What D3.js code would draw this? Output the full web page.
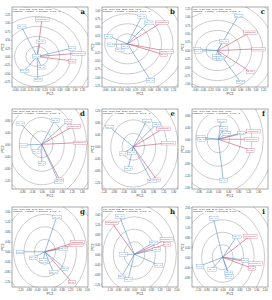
<!DOCTYPE html>
<html>
<head>
<meta charset="utf-8">
<script src="https://cdn.jsdelivr.net/npm/d3@7"></script>
<style>
  body { margin: 0; background: #fff; }
  text { font-family: "Liberation Sans", Arial, sans-serif; }
</style>
</head>
<body>
<script>
// panel letters and header text
const panelLetters = ["a", "b", "c", "d", "e", "f", "g", "h", "i"];
const headerLine1 = [
  "PC1 - 40.6%, PC2 - 19.5%, Sum = 60.1%",
  "PC1 - 42.9%, PC2 - 18.2%, Sum = 61.1%",
  "PC1 - 44.1%, PC2 - 17.0%, Sum = 61.1%",
  "PC1 - 38.7%, PC2 - 21.4%, Sum = 60.1%",
  "PC1 - 39.5%, PC2 - 20.8%, Sum = 60.3%",
  "PC1 - 43.6%, PC2 - 16.9%, Sum = 60.5%",
  "PC1 - 41.2%, PC2 - 19.9%, Sum = 61.1%",
  "PC1 - 37.8%, PC2 - 22.5%, Sum = 60.3%",
  "PC1 - 40.3%, PC2 - 21.1%, Sum = 61.4%"
];
const headerLine2 = "Transform = 0, Scaling = 0, Centering = 2, SVP = 2";

// axis domains and tick steps
const xDomains = [[-0.67, 1.36], [-0.67, 1.33], [-0.67, 1.33],
                  [-1.19, 1.85], [-1.25, 1.79], [-1.05, 1.99],
                  [-1.57, 2.05], [-1.54, 2.08], [-1.46, 2.16]];
const yDomains = [[-0.91, 1.48], [-1.29, 1.10], [-1.09, 1.30],
                  [-1.49, 1.18], [-1.41, 1.26], [-1.66, 1.01],
                  [-1.41, 1.79], [-1.31, 1.89], [-1.19, 2.01]];
const xTickStep = [0.2, 0.2, 0.2, 0.4, 0.4, 0.4, 0.4, 0.4, 0.4];
const yTickStep = [0.25, 0.25, 0.25, 0.4, 0.4, 0.4, 0.4, 0.4, 0.4];
const ringStep = [0.3, 0.3, 0.3, 0.45, 0.45, 0.45, 0.5, 0.5, 0.5];

// genotype (blue) vectors
const genoNames = ["N1_W", "N2_W", "N3_D", "N4_D", "S1_W", "S2_D", "S3_W"];
const genoX = [
  [-0.42, 0.09, 0.93, -0.02, -0.34, 0.11, 0.02],
  [0.38, 0.55, -0.50, -0.44, -0.21, -0.06, 0.60],
  [0.55, 0.16, -0.54, -0.50, -0.03, 0.07, 0.60],
  [-0.87, 0.53, 1.05, -0.73, -0.23, 0.00, 0.67],
  [-0.96, 0.53, 0.93, -0.40, -0.07, -0.20, 0.73],
  [0.13, 0.20, 0.33, 0.93, -0.71, -0.67, 0.20],
  [0.56, 0.87, -1.19, -0.56, -0.08, 0.95, 0.40],
  [-0.71, 0.90, 1.06, -0.52, 1.14, -0.60, -0.29],
  [-0.44, 0.67, 1.06, -1.08, -0.52, 0.27, 0.30]
];
const genoY = [
  [0.90, 0.45, 0.25, 0.02, -0.42, -0.31, -0.69],
  [0.82, 0.64, 0.23, -0.02, -0.17, -0.07, -1.08],
  [1.04, 0.28, 0.05, -0.02, -0.17, -0.22, -0.93],
  [0.70, 0.81, 0.78, -0.02, -0.22, -0.63, -1.24],
  [0.67, 0.87, 0.76, -0.22, -0.19, -0.72, -1.13],
  [0.62, 0.37, 0.20, 0.22, 0.07, 0.00, -1.36],
  [1.40, 0.13, 0.00, -0.23, -0.33, -0.67, -0.80],
  [1.53, 0.47, 0.20, 0.00, -0.43, -0.89, -0.99],
  [1.56, 0.83, -0.11, -0.35, -0.48, -0.61, -0.75]
];

// environment (red) vectors
const envNames = ["CONTROL", "DROUGHT", "SALT"];
const envX = [
  [0.13, 1.11, 0.93], [0.90, 1.03, 0.95], [0.86, 1.08, 0.86],
  [1.27, 1.53, 0.71], [1.20, 1.40, 0.93], [1.40, 1.33, 1.27],
  [1.54, 1.51, 1.27], [-1.08, 1.54, 1.54], [1.30, 1.54, 1.38]
];
const envY = [
  [1.12, 0.10, -0.13], [0.64, -0.22, -0.32], [0.54, 0.05, -0.63],
  [0.61, 0.06, -1.17], [0.61, 0.13, -1.09], [0.28, 0.00, -0.36],
  [0.40, 0.29, -1.20], [1.27, 0.60, 0.41], [0.85, -0.24, -0.44]
];

const width = 272, height = 300;
const colOffsets = [0, 90, 180];
const rowOffsets = [0, 102, 200];
const box = { left: 12, right: 88, top: 7, bottom: 87 };
const blue = "#5a8fc6", red = "#c4506c";

const svg = d3.select("body").append("svg")
  .attr("width", width)
  .attr("height", height);

function ticksFor(domain, step) {
  const out = [];
  const start = Math.ceil(domain[0] / step - 1e-9);
  const end = Math.floor(domain[1] / step + 1e-9);
  for (let k = start; k <= end; k++) out.push(+(k * step).toFixed(2));
  return out;
}

panelLetters.forEach(function(letter, p) {
  const ox = colOffsets[p % 3], oy = rowOffsets[Math.floor(p / 3)];
  const g = svg.append("g").attr("transform", `translate(${ox},${oy})`);

  const x = d3.scaleLinear().domain(xDomains[p]).range([box.left, box.right]);
  const y = d3.scaleLinear().domain(yDomains[p]).range([box.bottom, box.top]);

  const clipId = "clip" + p;
  g.append("clipPath").attr("id", clipId)
    .append("rect")
    .attr("x", box.left).attr("y", box.top)
    .attr("width", box.right - box.left).attr("height", box.bottom - box.top);

  // axes
  const xAxis = g.append("g")
    .attr("transform", `translate(0,${box.bottom})`)
    .call(d3.axisBottom(x).tickValues(ticksFor(xDomains[p], xTickStep[p]))
      .tickSize(1).tickPadding(0.8).tickFormat(d3.format(".2f")));
  const yAxis = g.append("g")
    .attr("transform", `translate(${box.left},0)`)
    .call(d3.axisLeft(y).tickValues(ticksFor(yDomains[p], yTickStep[p]))
      .tickSize(1).tickPadding(0.8).tickFormat(d3.format(".2f")));
  [xAxis, yAxis].forEach(function(a) {
    a.select(".domain").remove();
    a.selectAll(".tick line").attr("stroke", "#666").attr("stroke-width", 0.3);
    a.selectAll(".tick text").attr("font-size", 2.6).attr("fill", "#333")
      .style("font-family", "Liberation Sans, Arial, sans-serif");
  });

  g.append("text")
    .attr("x", (box.left + box.right) / 2).attr("y", box.bottom + 8)
    .attr("text-anchor", "middle").attr("font-size", 3.6).attr("fill", "#333")
    .text("PC1");
  g.append("text")
    .attr("transform", `translate(3.5,${(box.top + box.bottom) / 2}) rotate(-90)`)
    .attr("text-anchor", "middle").attr("font-size", 3.6).attr("fill", "#333")
    .text("PC2");

  const plot = g.append("g").attr("clip-path", `url(#${clipId})`);

  // concentric rings around the origin
  const rings = d3.range(1, 9).map(k => k * ringStep[p]);
  plot.selectAll("ellipse").data(rings).join("ellipse")
    .attr("cx", x(0)).attr("cy", y(0))
    .attr("rx", r => x(r) - x(0))
    .attr("ry", r => y(0) - y(r))
    .attr("fill", "none").attr("stroke", "#999").attr("stroke-width", 0.5);

  // vectors
  const genos = genoNames.map((n, i) => ({ name: n, x: genoX[p][i], y: genoY[p][i] }));
  const envs = envNames.map((n, i) => ({ name: n, x: envX[p][i], y: envY[p][i] }));

  plot.selectAll("line.env").data(envs).join("line").attr("class", "env")
    .attr("x1", x(0)).attr("y1", y(0))
    .attr("x2", d => x(d.x)).attr("y2", d => y(d.y))
    .attr("stroke", red).attr("stroke-width", 0.6);
  plot.selectAll("line.geno").data(genos).join("line").attr("class", "geno")
    .attr("x1", x(0)).attr("y1", y(0))
    .attr("x2", d => x(d.x)).attr("y2", d => y(d.y))
    .attr("stroke", blue).attr("stroke-width", 0.6);

  function addLabels(data, color) {
    const lab = g.selectAll(null).data(data).join("g")
      .attr("transform", d => `translate(${x(d.x)},${y(d.y)})`);
    lab.append("text")
      .attr("text-anchor", "middle").attr("dy", "0.35em")
      .attr("font-size", 2.4).attr("fill", color)
      .text(d => d.name);
    lab.each(function() {
      const bb = d3.select(this).select("text").node().getBBox();
      d3.select(this).insert("rect", "text")
        .attr("x", bb.x - 0.6).attr("y", bb.y - 0.3)
        .attr("width", bb.width + 1.2).attr("height", bb.height + 0.6)
        .attr("fill", "#fff").attr("stroke", color).attr("stroke-width", 0.3);
    });
  }
  addLabels(envs, red);
  addLabels(genos, blue);

  // header
  g.append("rect")
    .attr("x", box.left + 0.5).attr("y", box.top + 0.5)
    .attr("width", 40).attr("height", 5.5).attr("fill", "#fff");
  g.append("text").attr("x", box.left + 1).attr("y", box.top + 2.8)
    .attr("font-size", 2.1).attr("fill", "#222").text(headerLine1[p]);
  g.append("text").attr("x", box.left + 1).attr("y", box.top + 5.3)
    .attr("font-size", 2.1).attr("fill", "#222").text(headerLine2);

  g.append("text")
    .attr("x", box.right - 3).attr("y", box.top + 7)
    .attr("text-anchor", "end").attr("font-size", 7).attr("font-weight", "bold")
    .attr("fill", "#222").style("font-family", "DejaVu Serif, serif")
    .text(letter);

  // frame
  g.append("rect")
    .attr("x", box.left).attr("y", box.top)
    .attr("width", box.right - box.left).attr("height", box.bottom - box.top)
    .attr("fill", "none").attr("stroke", "#555").attr("stroke-width", 0.5);
});
</script>
</body>
</html>
